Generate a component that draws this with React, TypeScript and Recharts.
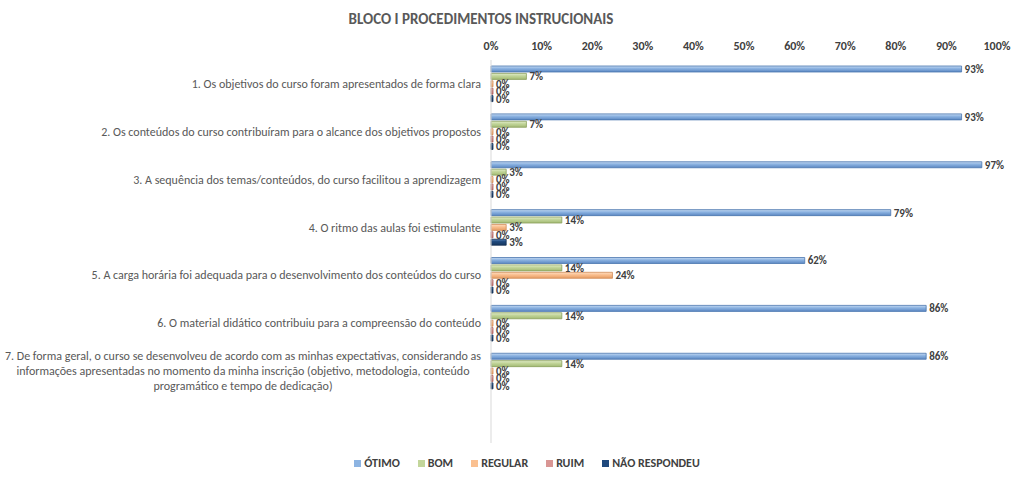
import React from "react";
import { BarChart, Bar, XAxis, YAxis, Legend, LabelList } from "recharts";

const categories = [
  "1. Os objetivos do curso foram apresentados de forma clara",
  "2. Os conteúdos do curso contribuíram para o alcance dos objetivos propostos",
  "3. A sequência dos temas/conteúdos, do curso facilitou a aprendizagem",
  "4. O ritmo das aulas foi estimulante",
  "5. A carga horária foi adequada para o desenvolvimento dos conteúdos do curso",
  "6. O material didático contribuiu para a compreensão do conteúdo",
  "7. De forma geral, o curso se desenvolveu de acordo com as minhas expectativas, considerando as\ninformações apresentadas no momento da minha inscrição (objetivo, metodologia, conteúdo\nprogramático e tempo de dedicação)",
  "",
];

const otimo = [93, 93, 97, 79, 62, 86, 86, null];
const bom = [7, 7, 3, 14, 14, 14, 14, null];
const regular = [0, 0, 0, 3, 24, 0, 0, null];
const ruim = [0, 0, 0, 0, 0, 0, 0, null];
const naoRespondeu = [0, 0, 0, 3, 0, 0, 0, null];

const xTicks = [0, 10, 20, 30, 40, 50, 60, 70, 80, 90, 100];

const series = [
  { key: "otimo", name: "ÓTIMO", values: otimo, light: "#C6DAF2", fill: "#8DB4E2", dark: "#5B87C2", stroke: "#4A76AE" },
  { key: "bom", name: "BOM", values: bom, light: "#E3EDCD", fill: "#C3D69B", dark: "#A3BA73", stroke: "#8AA05C" },
  { key: "regular", name: "REGULAR", values: regular, light: "#FDDEC4", fill: "#FAC090", dark: "#E69C63", stroke: "#D08A55" },
  { key: "ruim", name: "RUIM", values: ruim, light: "#EEC2C1", fill: "#D99694", dark: "#BD6E6C", stroke: "#A85E5C" },
  { key: "nao", name: "NÃO RESPONDEU", values: naoRespondeu, light: "#5A85BA", fill: "#1F497D", dark: "#17375E", stroke: "#142F50" },
];

const data = categories.map((name, i) => {
  const row: Record<string, any> = { name };
  series.forEach((s) => {
    row[s.key] = s.values[i];
  });
  return row;
});

const FONT = 'Carlito, Calibri, "Liberation Sans Narrow", "Open Sans", Roboto, sans-serif';

const YTick = (props: any) => {
  const { x, y, payload } = props;
  const text: string = payload.value || "";
  if (!text) return null;
  const lines = text.split("\n");
  const lh = 15;
  if (lines.length === 1) {
    return (
      <text x={x} y={y} dy={4} textAnchor="end" fill="#595959" fontSize={12} fontFamily={FONT}>
        {text}
      </text>
    );
  }
  const cx = x - 238;
  const start = y - ((lines.length - 1) * lh) / 2 + 4;
  return (
    <text textAnchor="middle" fill="#595959" fontSize={12} fontFamily={FONT}>
      {lines.map((l, i) => (
        <tspan key={i} x={cx} y={start + i * lh}>
          {l}
        </tspan>
      ))}
    </text>
  );
};

const LegendContent = () => (
  <div
    style={{
      display: "flex",
      justifyContent: "center",
      alignItems: "center",
      gap: 18,
      fontFamily: FONT,
      fontSize: 12,
      fontWeight: "bold",
      color: "#404040",
      paddingTop: 13,
      paddingLeft: 57,
    }}
  >
    {series.map((s) => (
      <div key={s.key} style={{ display: "flex", alignItems: "center", gap: 3 }}>
        <span style={{ display: "inline-block", width: 7, height: 7, background: s.fill }} />
        <span>{s.name}</span>
      </div>
    ))}
  </div>
);

export default function App() {
  return (
    <div style={{ position: "fixed", left: 0, top: 0, width: 1024, height: 482, background: "#fff" }}>
      <div
        style={{
          position: "absolute",
          left: 0,
          top: 10,
          width: 962,
          textAlign: "center",
          fontFamily: FONT,
          fontSize: 15,
          fontWeight: "bold",
          color: "#595959",
        }}
      >
        BLOCO I PROCEDIMENTOS INSTRUCIONAIS
      </div>
      <BarChart
        width={1024}
        height={482}
        data={data}
        layout="vertical"
        margin={{ top: 0, right: 27, left: 0, bottom: 0 }}
        barGap={1.4}
        barSize={6}
      >
        <defs>
          {series.map((s) => (
            <linearGradient key={s.key} id={`g-${s.key}`} x1="0" y1="0" x2="0" y2="1">
              <stop offset="0%" stopColor={s.light} />
              <stop offset="40%" stopColor={s.fill} />
              <stop offset="100%" stopColor={s.dark} />
            </linearGradient>
          ))}
        </defs>
        <XAxis
          type="number"
          orientation="top"
          domain={[0, 100]}
          ticks={xTicks}
          height={60}
          axisLine={false}
          tickLine={false}
          tickSize={0}
          tickMargin={10}
          tickFormatter={(v: number) => `${v}%`}
          tick={{ fill: "#404040", fontSize: 12, fontWeight: "bold", fontFamily: FONT }}
          interval={0}
        />
        <YAxis
          type="category"
          dataKey="name"
          width={491}
          axisLine={{ stroke: "#D9D9D9" }}
          tickLine={false}
          tickSize={0}
          tickMargin={10}
          tick={<YTick />}
          interval={0}
        />
        <Legend verticalAlign="bottom" height={39} content={<LegendContent />} />
        {series.map((s) => (
          <Bar
            key={s.key}
            dataKey={s.key}
            name={s.name}
            fill={`url(#g-${s.key})`}
            stroke={s.stroke}
            strokeWidth={0.8}
            minPointSize={2}
            isAnimationActive={false}
          >
            <LabelList
              dataKey={s.key}
              position="right"
              offset={3}
              formatter={(v: any) => (v === null || v === undefined ? "" : `${v}%`)}
              fill="#404040"
              fontSize={11}
              fontWeight="bold"
              fontFamily={FONT}
            />
          </Bar>
        ))}
      </BarChart>
    </div>
  );
}
